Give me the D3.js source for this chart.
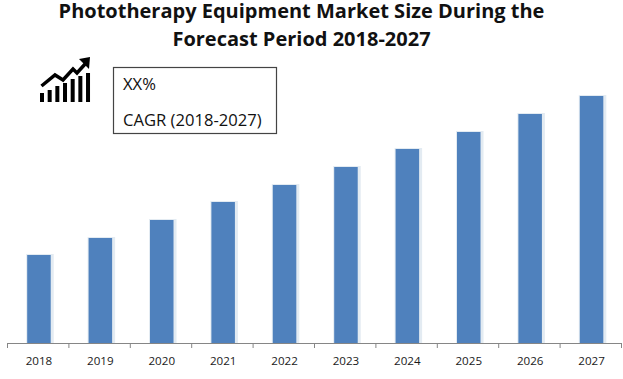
<!DOCTYPE html>
<html>
<head>
<meta charset="utf-8">
<script src="https://cdnjs.cloudflare.com/ajax/libs/d3/7.8.5/d3.min.js"></script>
<style>
html, body { margin: 0; padding: 0; background: #fff; }
svg { display: block; }
text { font-family: "Open Sans", sans-serif; }
</style>
</head>
<body>
<div id="chart"></div>
<script>
var years = ["2018", "2019", "2020", "2021", "2022", "2023", "2024", "2025", "2026", "2027"];
// no y axis in the picture, heights read off as relative units
var market_size = [88, 105, 123, 141, 158, 176, 194, 211, 229, 247];
var title_lines = ["Phototherapy Equipment Market Size During the", "Forecast Period 2018-2027"];
var cagr_lines = ["XX%", "CAGR (2018-2027)"];
var icon_bars = [9, 12, 16, 19, 23, 26, 29];

var width = 623;
var height = 379;
var margin = {top: 0, right: 1.5, bottom: 36, left: 7.5};

var svg = d3.select("#chart").append("svg")
    .attr("width", width)
    .attr("height", height);

var xScale = d3.scaleBand()
    .domain(years)
    .range([margin.left, width - margin.right])
    .paddingInner(0.617)
    .paddingOuter(0.3085)
    .align(0.52);
var yScale = d3.scaleLinear()
    .domain([0, height - margin.bottom])
    .range([height - margin.bottom, margin.top]);

// soft pale edge around the bars
svg.append("g").selectAll("rect")
    .data(market_size)
    .join("rect")
    .attr("x", function (d, i) { return xScale(years[i]) - 1; })
    .attr("y", function (d) { return yScale(d) - 1; })
    .attr("width", xScale.bandwidth() + 4)
    .attr("height", function (d) { return yScale(0) - yScale(d) + 1; })
    .attr("fill", "#e3ebf2");

svg.append("g").selectAll("rect")
    .data(market_size)
    .join("rect")
    .attr("x", function (d, i) { return xScale(years[i]); })
    .attr("y", function (d) { return yScale(d); })
    .attr("width", xScale.bandwidth())
    .attr("height", function (d) { return yScale(0) - yScale(d); })
    .attr("fill", "#4f81bd");

// Plot the axis, ticks sit between the categories
var xAxis = d3.axisBottom(xScale).tickSize(0).tickPadding(14);
var plot_xaxis = svg.append("g")
    .attr("transform", "translate(0," + (height - margin.bottom) + ")")
    .call(xAxis);
plot_xaxis.select(".domain").attr("stroke", "#868686");
plot_xaxis.selectAll("text")
    .style("font-family", "Open Sans")
    .style("font-size", "11.6px")
    .attr("fill", "#1a1a1a");
plot_xaxis.selectAll(".sep")
    .data(d3.range(years.length + 1))
    .join("line")
    .attr("class", "sep")
    .attr("x1", function (d) { return margin.left + d * xScale.step(); })
    .attr("x2", function (d) { return margin.left + d * xScale.step(); })
    .attr("y1", 0)
    .attr("y2", 5)
    .attr("stroke", "#868686");

// Add a title
svg.append("g").selectAll("text")
    .data(title_lines)
    .join("text")
    .attr("x", 301.5)
    .attr("y", function (d, i) { return 17.5 + i * 28; })
    .attr("text-anchor", "middle")
    .style("font-size", "20px")
    .style("font-weight", "bold")
    .attr("fill", "#111")
    .text(function (d) { return d; });

// CAGR box
svg.append("rect")
    .attr("x", 113.5)
    .attr("y", 67.5)
    .attr("width", 163)
    .attr("height", 66)
    .attr("fill", "#fff")
    .attr("stroke", "#444")
    .attr("stroke-width", 1.2);
svg.append("g").selectAll("text")
    .data(cagr_lines)
    .join("text")
    .attr("x", 123)
    .attr("y", function (d, i) { return 90 + i * 36; })
    .style("font-size", "16.6px")
    .attr("fill", "#111")
    .text(function (d) { return d; });

// growth icon
var icon = svg.append("g").attr("transform", "translate(40,102)");
icon.selectAll("rect")
    .data(icon_bars)
    .join("rect")
    .attr("x", function (d, i) { return i * 7.67; })
    .attr("y", function (d) { return -d; })
    .attr("width", 4)
    .attr("height", function (d) { return d; })
    .attr("fill", "#000");
icon.append("path")
    .attr("d", "M1.5,-16 L15,-27 L23,-22 L33,-33 L37,-29 L46,-39")
    .attr("fill", "none")
    .attr("stroke", "#000")
    .attr("stroke-width", 3.5);
icon.append("path")
    .attr("d", "M39,-43 L50,-45 L49,-33 Z")
    .attr("fill", "#000");
</script>
</body>
</html>
